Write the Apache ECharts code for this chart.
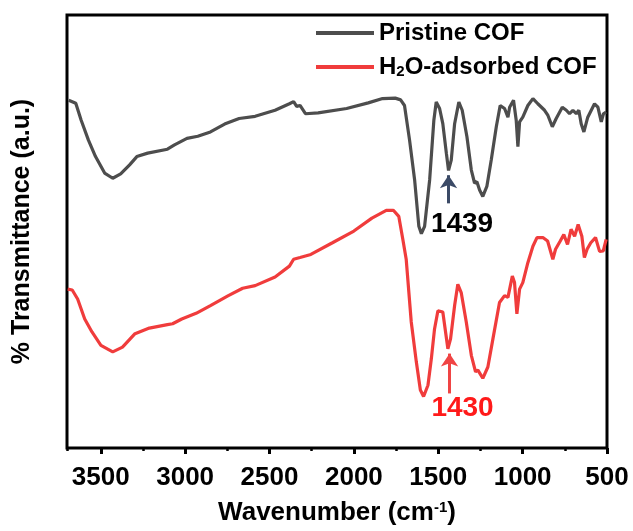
<!DOCTYPE html>
<html>
<head>
<meta charset="utf-8">
<script src="https://cdn.jsdelivr.net/npm/echarts@6/dist/echarts.min.js"></script>
<style>html,body{margin:0;padding:0;background:#fff}#c{width:633px;height:531px}</style>
</head>
<body>
<div id="c"></div>
<script>
// Wavenumber ticks
const xTicks = [500, 1000, 1500, 2000, 2500, 3000, 3500];
// Pristine COF: wavenumber (cm-1) and transmittance (a.u.)
const pristineWn = [3690,3648,3616,3573,3531,3477,3429,3382,3329,3286,3222,3105,3063,2989,2925,2914,2850,2766,2680,2585,2467,2382,2357,2339,2319,2287,2212,2043,1915,1830,1755,1723,1700,1670,1640,1615,1600,1581,1551,1526,1512,1492,1473,1452,1439,1423,1403,1378,1358,1330,1304,1285,1271,1255,1236,1212,1186,1156,1133,1107,1087,1077,1054,1038,1028,1018,999,969,939,910,870,850,824,801,765,741,722,702,682,667,653,637,614,574,554,534,521,505];
const pristineT = [80.3,79.6,75.7,71.1,67.3,63.5,62.3,63.3,65.4,67.3,68.1,69.0,70.0,71.5,72.0,71.6,73.0,74.8,76.1,76.6,78.0,79.5,80.0,78.9,79.1,77.2,77.4,78.4,79.7,80.7,80.8,80.4,79.1,71.1,61.9,51.2,49.5,51.2,61.9,75.7,79.9,78.4,74.9,68.1,64.1,66.5,74.9,79.9,78.0,71.9,64.2,61.2,61.5,59.6,58.1,60.4,66.5,74.2,79.1,78.4,76.4,78.7,80.3,75.7,69.6,75.3,76.4,79.1,80.7,79.5,78.0,76.8,74.2,76.1,78.7,78.0,77.2,78.0,77.2,78.0,74.9,73.0,76.4,79.5,78.7,75.3,77.2,77.6];
// H2O-adsorbed COF
const waterWn = [3696,3669,3637,3595,3552,3499,3429,3371,3297,3212,3105,3074,3020,2935,2850,2744,2659,2585,2467,2382,2357,2319,2255,2127,2000,1893,1808,1766,1734,1710,1690,1660,1630,1606,1587,1561,1541,1522,1502,1473,1443,1427,1403,1384,1364,1334,1304,1279,1265,1236,1206,1176,1137,1107,1087,1061,1048,1034,1018,999,969,939,915,880,852,821,805,777,756,734,713,692,671,649,634,618,596,568,544,522,505];
const waterT = [36.7,36.5,34.4,29.8,26.8,23.7,22.2,23.3,26.4,27.7,28.5,28.7,29.8,31.1,32.9,35.2,36.9,37.5,39.5,42.0,43.6,44.0,44.7,47.4,50.1,53.1,54.9,54.9,53.5,48.2,43.6,29.1,19.9,13.4,11.9,14.5,20.6,27.5,31.7,31.4,22.9,25.2,32.9,37.8,35.9,29.1,21.4,17.6,18.0,16.1,18.7,25.2,33.6,35.2,34.8,39.7,38.2,31.0,36.7,38.2,42.8,46.6,48.6,48.6,47.8,43.6,45.9,47.8,49.3,47.0,50.5,48.9,51.6,48.9,44.0,45.9,47.4,48.6,45.4,45.5,48.2];
// Annotations: peak labels and arrows
const peakLabels = ['1439', '1430'];
const peakWn = [1439, 1433];
const arrowGray = [56.5, 63.0];
const arrowRed = [12.6, 21.8];
const labelPos = [[1359, 51.6], [1356, 9.2]];

const FONT = 'Liberation Sans, Arial, sans-serif';
const gray = '#4d4d4d', red = '#f03c3c';

const chart = echarts.init(document.getElementById('c'), null, {renderer: 'canvas'});
const zip = (a, b) => a.map((v, i) => [v, b[i]]);

chart.setOption({
  animation: false,
  grid: {left: 67, right: 26, top: 15, bottom: 81, show: true, borderColor: '#000', borderWidth: 3, containLabel: false},
  legend: {
    left: 311, top: 16, orient: 'vertical', itemWidth: 58, itemHeight: 4, itemGap: 9, icon: 'rect',
    data: ['Pristine COF', 'H2O-adsorbed COF'],
    formatter: n => n === 'H2O-adsorbed COF' ? 'H{sub|2}O-adsorbed COF' : n,
    textStyle: {fontFamily: FONT, fontWeight: 'bold', fontSize: 24, color: '#000', lineHeight: 24,
      rich: {sub: {fontFamily: FONT, fontWeight: 'bold', fontSize: 15, color: '#000', verticalAlign: 'bottom', lineHeight: 24, padding: [10, 0, 0, 0]}}}
  },
  xAxis: [{
    type: 'value', min: 500, max: 3700, interval: 500, inverse: true,
    name: 'Wavenumber (cm{sup|-1})', nameLocation: 'middle', nameGap: 52,
    nameTextStyle: {fontFamily: FONT, fontWeight: 'bold', fontSize: 26, color: '#000',
      rich: {sup: {fontFamily: FONT, fontWeight: 'bold', fontSize: 15, color: '#000', verticalAlign: 'top', padding: [0, 0, 11, 0]}}},
    axisLine: {show: false},
    axisTick: {show: true, inside: false, length: 6, lineStyle: {color: '#000', width: 3}},
    axisLabel: {show: true, margin: 17, showMaxLabel: false, fontFamily: FONT, fontWeight: 'bold', fontSize: 26, color: '#000',
      formatter: v => xTicks.includes(v) ? String(v) : ''},
    splitLine: {show: false}
  }, {
    type: 'value', min: 500, max: 3700, interval: 250, inverse: true, position: 'bottom', gridIndex: 0,
    axisLine: {show: false},
    axisTick: {show: true, inside: false, length: 3, lineStyle: {color: '#000', width: 2.5}},
    axisLabel: {show: false}, splitLine: {show: false}
  }],
  yAxis: {
    type: 'value', min: 0, max: 100,
    name: '% Transmittance (a.u.)', nameLocation: 'middle', nameGap: 32,
    nameTextStyle: {fontFamily: FONT, fontWeight: 'bold', fontSize: 25, color: '#000'},
    axisLine: {show: false}, axisTick: {show: false}, axisLabel: {show: false}, splitLine: {show: false}
  },
  series: [{
    name: 'Pristine COF', type: 'line', data: zip(pristineWn, pristineT), showSymbol: false, symbol: 'none',
    lineStyle: {color: gray, width: 3.2}, itemStyle: {color: gray}, z: 3,
    markLine: {
      silent: true, symbol: ['none', 'arrow'], symbolSize: 13, animation: false,
      lineStyle: {color: '#3b4a66', width: 3, type: 'solid'}, itemStyle: {color: '#3b4a66'}, label: {show: false},
      data: [[{coord: [peakWn[0], arrowGray[0]]}, {coord: [peakWn[0], arrowGray[1]]}]]
    },
    markPoint: {
      silent: true, symbol: 'rect', symbolSize: 1, itemStyle: {color: 'rgba(0,0,0,0)'},
      label: {show: true, position: 'inside', fontFamily: FONT, fontWeight: 'bold', fontSize: 28, color: '#000'},
      data: [{coord: labelPos[0], value: peakLabels[0], label: {formatter: peakLabels[0]}}]
    }
  }, {
    name: 'H2O-adsorbed COF', type: 'line', data: zip(waterWn, waterT), showSymbol: false, symbol: 'none',
    lineStyle: {color: red, width: 3.2}, itemStyle: {color: red}, z: 3,
    markLine: {
      silent: true, symbol: ['none', 'arrow'], symbolSize: 13, animation: false,
      lineStyle: {color: '#f04444', width: 3, type: 'solid'}, itemStyle: {color: '#f04444'}, label: {show: false},
      data: [[{coord: [peakWn[1], arrowRed[0]]}, {coord: [peakWn[1], arrowRed[1]]}]]
    },
    markPoint: {
      silent: true, symbol: 'rect', symbolSize: 1, itemStyle: {color: 'rgba(0,0,0,0)'},
      label: {show: true, position: 'inside', fontFamily: FONT, fontWeight: 'bold', fontSize: 28, color: '#ff1a1a'},
      data: [{coord: labelPos[1], value: peakLabels[1], label: {formatter: peakLabels[1]}}]
    }
  }]
});
</script>
</body>
</html>
